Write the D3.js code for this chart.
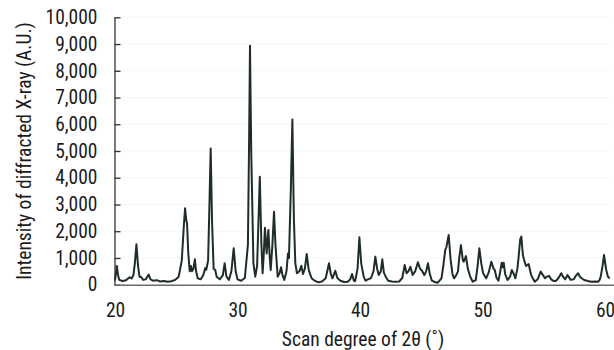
<!DOCTYPE html>
<html>
<head>
<meta charset="utf-8">
<script src="https://cdn.jsdelivr.net/npm/d3@7"></script>
<style>
  body { margin: 0; background: #fff; }
  svg text { font-family: "Liberation Sans Narrow", "Roboto Condensed", "DejaVu Sans Condensed", sans-serif; fill: #1c1a1b; }
</style>
</head>
<body>
<div id="chart"></div>
<script>
// scan angle (2 theta, degrees)
var angles = [
  20.00, 20.08, 20.15, 20.25, 20.35, 20.6, 20.9, 21.2, 21.35, 21.5, 21.62, 21.75, 21.88, 22.0, 22.15, 22.3, 22.5, 22.75, 22.9,
  23.1, 23.4, 23.7, 24.0, 24.3, 24.6, 24.9, 25.2, 25.45, 25.62, 25.72, 25.82, 25.88, 25.98, 26.1, 26.2, 26.28, 26.4, 26.52,
  26.62, 26.75, 27.0, 27.2, 27.37, 27.45, 27.6, 27.72, 27.81, 27.92, 28.05, 28.18, 28.3, 28.55, 28.8, 28.95, 29.1, 29.3,
  29.5, 29.69, 29.85, 30.0, 30.3, 30.6, 30.85, 30.95, 31.02, 31.12, 31.3, 31.45, 31.6, 31.74, 31.82, 31.95, 32.05, 32.15,
  32.24, 32.38, 32.52, 32.62, 32.71, 32.85, 32.98, 33.1, 33.28, 33.45, 33.55, 33.68, 33.82, 34.0, 34.12, 34.2, 34.35, 34.48,
  34.6, 34.72, 34.85, 35.05, 35.21, 35.35, 35.5, 35.65, 35.8, 35.9, 36.05, 36.3, 36.6, 36.9, 37.2, 37.47, 37.62, 37.75,
  37.98, 38.15, 38.4, 38.7, 39.0, 39.2, 39.35, 39.5, 39.6, 39.8, 39.95, 40.1, 40.3, 40.45, 40.65, 40.9, 41.1, 41.25, 41.4,
  41.53, 41.7, 41.82, 41.95, 42.1, 42.3, 42.6, 42.9, 43.2, 43.45, 43.65, 43.8, 43.95, 44.11, 44.3, 44.5, 44.73, 44.9, 45.06,
  45.25, 45.4, 45.55, 45.7, 45.87, 46.1, 46.35, 46.65, 46.8, 46.96, 47.05, 47.24, 47.4, 47.55, 47.67, 47.85, 48.0, 48.1,
  48.24, 48.4, 48.47, 48.65, 48.8, 49.0, 49.2, 49.45, 49.6, 49.74, 49.9, 50.05, 50.3, 50.5, 50.72, 50.9, 51.0, 51.15, 51.3,
  51.45, 51.57, 51.65, 51.73, 51.85, 52.05, 52.25, 52.39, 52.55, 52.68, 52.85, 52.95, 53.08, 53.17, 53.3, 53.4, 53.55,
  53.77, 53.9, 53.98, 54.15, 54.27, 54.5, 54.75, 54.95, 55.1, 55.25, 55.43, 55.6, 55.8, 56.0, 56.2, 56.43, 56.6, 56.75,
  56.94, 57.2, 57.45, 57.65, 57.8, 57.95, 58.1, 58.3, 58.6, 58.88, 59.2, 59.45, 59.55, 59.65, 59.8, 59.92, 60.1, 60.24, 60.39
];

// diffracted intensity (A.U.) at each angle
var intensity = [
  150, 450, 700, 350, 180, 140, 170, 280, 230, 350, 800, 1510, 700, 300, 280, 180, 200, 380, 200,
  150, 170, 120, 140, 110, 130, 180, 300, 900, 2200, 2860, 2400, 2300, 1200, 500, 700, 500, 600, 950,
  500, 240, 200, 350, 620, 560, 900, 3200, 5090, 2400, 600, 550, 300, 200, 350, 800, 300, 180,
  500, 1360, 500, 200, 150, 250, 1500, 5500, 8940, 5000, 800, 300, 700, 2800, 4040, 1500, 430, 1200,
  2130, 1170, 2050, 1100, 550, 1500, 2730, 1500, 300, 450, 650, 350, 175, 500, 1170, 1000, 3500, 6180,
  2500, 800, 430, 500, 710, 400, 600, 1150, 600, 430, 240, 150, 90, 120, 240, 800, 400, 240,
  520, 250, 150, 100, 110, 200, 400, 150, 130, 600, 1770, 800, 300, 150, 200, 250, 500, 1050, 600,
  360, 500, 950, 450, 300, 150, 120, 110, 120, 250, 740, 430, 500, 670, 360, 500, 840, 600, 520,
  360, 500, 800, 400, 150, 100, 75, 240, 700, 1300, 1400, 1860, 920, 400, 240, 350, 500, 1000,
  1480, 900, 860, 1070, 600, 300, 112, 175, 700, 1360, 800, 430, 240, 450, 860, 600, 550, 250, 150,
  500, 820, 650, 820, 400, 175, 300, 550, 400, 240, 600, 1050, 1700, 1800, 1100, 920, 700,
  770, 500, 360, 200, 112, 200, 490, 350, 240, 300, 330, 200, 140, 140, 250, 430, 280, 200,
  360, 180, 200, 350, 430, 300, 240, 175, 140, 112, 120, 112, 170, 300, 700, 1110, 550, 300, 240
];

var xTicks = [20, 30, 40, 50, 60];
var yTicks = [0, 1000, 2000, 3000, 4000, 5000, 6000, 7000, 8000, 9000, 10000];

var width = 614, height = 350;
var margins = {top: 17.3, right: 9, bottom: 65.3, left: 115};
var fontSize = "19.5px";

var svg = d3.select("#chart").append("svg")
    .attr("width", width)
    .attr("height", height);

// scales
var xScale = d3.scaleLinear().domain([20, 60]).range([margins.left, width - margins.right]);
var yScale = d3.scaleLinear().domain([0, 10000]).range([height - margins.bottom, margins.top]);

var data = angles.map(function(a, i) { return {x: a, y: intensity[i]}; });

// faint grid
svg.append("g")
    .selectAll("line")
    .data(yTicks.slice(1))
    .enter().append("line")
    .attr("x1", margins.left)
    .attr("x2", width - 4)
    .attr("y1", function(d) { return yScale(d); })
    .attr("y2", function(d) { return yScale(d); })
    .style("stroke", "#f6f6f6");

// y axis, ticks point into the plot
var yAxis = d3.axisLeft(yScale)
    .tickValues(yTicks)
    .tickSizeInner(-6)
    .tickSizeOuter(0)
    .tickFormat(d3.format(","));

var axiY = svg.append("g")
    .attr("transform", "translate(" + (margins.left - 0.5) + ",0)")
    .call(yAxis);
axiY.select(".domain").style("stroke", "#333").style("stroke-width", 1.3);
axiY.selectAll(".tick line").style("stroke", "#333").style("stroke-width", 1.3);
axiY.selectAll(".tick text")
    .attr("x", -17)
    .style("font-size", fontSize)
    .style("font-family", null);

// x axis, no ticks
var xAxis = d3.axisBottom(xScale)
    .tickValues(xTicks)
    .tickSize(0)
    .tickFormat(d3.format("d"));

var axiX = svg.append("g")
    .attr("transform", "translate(0," + (height - margins.bottom) + ")")
    .call(xAxis);
axiX.select(".domain").remove();
axiX.selectAll(".tick text")
    .attr("y", 26)
    .attr("dy", "0.32em")
    .style("font-size", fontSize)
    .style("font-family", null);

// the trace
var line = d3.line()
    .x(function(d) { return xScale(d.x); })
    .y(function(d) { return yScale(d.y); });

svg.append("path")
    .datum(data)
    .attr("d", line)
    .style("fill", "none")
    .style("stroke", "#1f2d2a")
    .style("stroke-width", 2)
    .style("stroke-linejoin", "round");

// x axis baseline drawn over the trace
svg.append("line")
    .attr("x1", margins.left - 1)
    .attr("x2", width)
    .attr("y1", yScale(0) + 0.5)
    .attr("y2", yScale(0) + 0.5)
    .style("stroke", "#6b6b6b")
    .style("stroke-width", 1.6);

// axis titles
svg.append("text")
    .attr("transform", "translate(24," + 151 + ") rotate(-90)")
    .attr("text-anchor", "middle")
    .attr("dy", "0.35em")
    .style("font-size", fontSize)
    .text("Intensity of diffracted X-ray (A.U.)");

svg.append("text")
    .attr("x", 363)
    .attr("y", 339)
    .attr("text-anchor", "middle")
    .attr("dy", "0.35em")
    .style("font-size", fontSize)
    .text("Scan degree of 2θ (˚)");
</script>
</body>
</html>
